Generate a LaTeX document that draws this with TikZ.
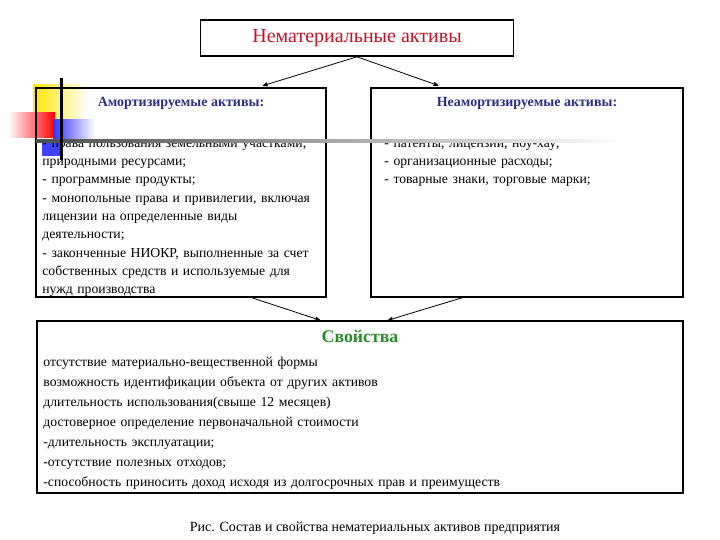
\documentclass[tikz,border=0pt]{standalone}
\usepackage{fontspec}
\setmainfont{Liberation Serif}
\usetikzlibrary{arrows,positioning}

\definecolor{titlered}{RGB}{190,20,40}
\definecolor{headblue}{RGB}{45,45,130}
\definecolor{propgreen}{RGB}{40,140,40}

\begin{document}
\begin{tikzpicture}[x=1pt,y=-1pt,->,>=stealth',thick]
  \tikzstyle{box}=[draw=black,line width=1.6pt,inner sep=0pt]
  \tikzstyle{head}=[font=\fontsize{14}{16}\selectfont\bfseries,text=headblue,inner sep=0pt]
  \tikzstyle{list}=[font=\fontsize{13.7}{18.3}\selectfont,align=left,anchor=north west,inner sep=0pt]

  \useasboundingbox (0,0) rectangle (720,540);

  % template corner
  \shade[left color=yellow!80!orange,right color=white] (33,85) rectangle (88,120);
  \shade[left color=white,right color=red] (8,113) rectangle (55,138);
  \shade[left color=blue!80,right color=white] (53,120) rectangle (95,143);
  \fill[blue!75] (42,143) rectangle (60,156);

  \node[box,minimum width=313pt,minimum height=36pt,
        font=\fontsize{20}{22}\selectfont,text=titlered] (top) at (357,38) {Нематериальные активы};
  \node[box,minimum width=290pt,minimum height=209pt] (amort)   at (181,192.5) {};
  \node[box,minimum width=312pt,minimum height=209pt] (neamort) at (527,192.5) {};
  \node[box,minimum width=646pt,minimum height=172pt] (props)   at (360,407) {};

  \node[head,below=10pt of amort.north]   {Амортизируемые активы:};
  \node[head,below=10pt of neamort.north] {Неамортизируемые активы:};
  \node[font=\fontsize{17.8}{19}\selectfont\bfseries,text=propgreen,inner sep=0pt,
        below=10pt of props.north] (propshead) {Свойства};

  \node[list,text width=300pt] (amortlist) at (42,140.5)
    {- права пользования земельными участками,\\
     природными ресурсами;\\
     - программные продукты;\\
     - монопольные права и привилегии, включая\\
     лицензии на определенные виды\\
     деятельности;\\
     - законченные НИОКР, выполненные за счет\\
     собственных средств и используемые для\\
     нужд производства};
  \node[list,text width=290pt] (neamortlist) at (384,140.5)
    {- патенты, лицензии, ноу-хау;\\
     - организационные расходы;\\
     - товарные знаки, торговые марки;};
  \node[list,text width=630pt,font=\fontsize{13.7}{20}\selectfont] (propslist) at (43,357)
    {отсутствие материально-вещественной формы\\
     возможность идентификации объекта от других активов\\
     длительность использования(свыше 12 месяцев)\\
     достоверное определение первоначальной стоимости\\
     -длительность эксплуатации;\\
     -отсутствие полезных отходов;\\
     -способность приносить доход исходя из долгосрочных прав и преимуществ};

  \node[font=\fontsize{14}{16}\selectfont] (caption) at (375,528)
    {Рис. Состав и свойства нематериальных активов предприятия};

  % template lines over the text
  \shade[left color=black!70,right color=white] (36,140) rectangle (625,142.5);
  \draw[-,line width=3pt] (61,78) -- (61,160);

  \path (top.south) edge [shorten >=5pt] ([xshift=77pt]amort.north)
        (top.south) edge [shorten >=5pt] ([xshift=-84pt]neamort.north)
        ([xshift=71pt]amort.south)    edge ([xshift=-40pt]props.north)
        ([xshift=-65pt]neamort.south) edge ([xshift=28pt]props.north);
\end{tikzpicture}
\end{document}
